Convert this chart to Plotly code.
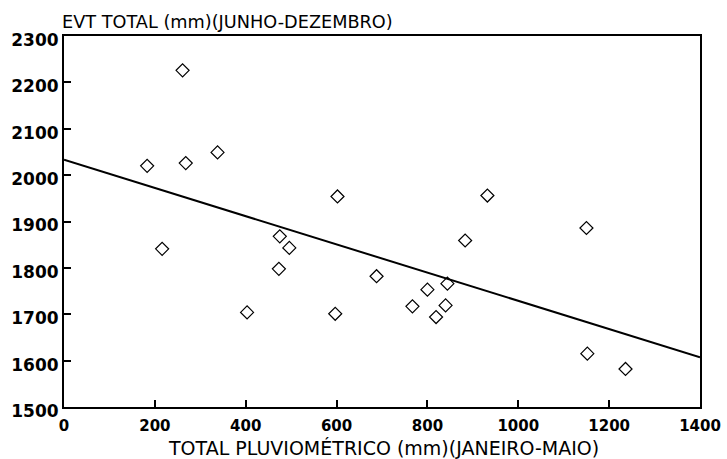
import plotly.graph_objects as go

# Rainfall Jan-May (mm) vs total evapotranspiration Jun-Dec (mm)
rain_jan_may = [261, 183, 268, 338, 602, 216, 475, 496, 473, 403, 597, 688,
                932, 1150, 883, 844, 800, 767, 840, 819, 1152, 1236]
evt_jun_dec = [2226, 2020, 2026, 2049, 1954, 1841, 1868, 1843, 1798, 1704, 1701, 1782,
               1956, 1886, 1859, 1766, 1753, 1717, 1719, 1694, 1615, 1582]

# Fitted regression line: EVT = intercept + slope * rain
intercept = 2033
slope = -0.304
line_x = [0, 1400]
line_y = [intercept + slope * v for v in line_x]

x_ticks = [0, 200, 400, 600, 800, 1000, 1200, 1400]
y_ticks = [1500, 1600, 1700, 1800, 1900, 2000, 2100, 2200, 2300]

font_family = "DejaVu Sans, Verdana, sans-serif"

fig = go.Figure()
fig.add_trace(go.Scatter(
    x=line_x, y=line_y, mode="lines",
    line=dict(color="black", width=2), showlegend=False, hoverinfo="skip"))
fig.add_trace(go.Scatter(
    x=rain_jan_may, y=evt_jun_dec, mode="markers",
    marker=dict(symbol="diamond-open", size=10, color="black", line=dict(width=1.2)),
    showlegend=False))

axis_common = dict(
    showgrid=False, zeroline=False, showline=True, linecolor="black", linewidth=2,
    mirror=True, ticks="inside", ticklen=7, tickwidth=1.5, tickcolor="black",
    automargin=False)

fig.update_xaxes(range=[0, 1400], tickvals=x_ticks, ticktext=[str(v) for v in x_ticks],
                 tickfont=dict(family=font_family, size=15, color="black", weight="bold"),
                 ticklabelstandoff=4, **axis_common)
fig.update_yaxes(range=[1500, 2300], tickvals=y_ticks, ticktext=[str(v) for v in y_ticks],
                 tickfont=dict(family=font_family, size=17, color="black", weight="bold"),
                 ticklabelshift=4, ticklabelstandoff=0, **axis_common)

# Axis titles
fig.add_annotation(
    text="EVT TOTAL (mm)(JUNHO-DEZEMBRO)", xref="paper", yref="paper",
    x=-0.005, y=1.0, xanchor="left", yanchor="bottom", yshift=3, showarrow=False,
    borderpad=0, font=dict(family=font_family, size=17.7, color="black"))
fig.add_annotation(
    text="TOTAL PLUVIOMÉTRICO (mm)(JANEIRO-MAIO)", xref="paper", yref="paper",
    x=0.502, y=0.0, xanchor="center", yanchor="middle", yshift=-41, showarrow=False,
    borderpad=0, font=dict(family=font_family, size=19.0, color="black"))

fig.update_layout(
    width=727, height=459,
    margin=dict(l=64, r=27, t=36, b=52),
    paper_bgcolor="white", plot_bgcolor="white",
)

fig.write_html("out.html")
